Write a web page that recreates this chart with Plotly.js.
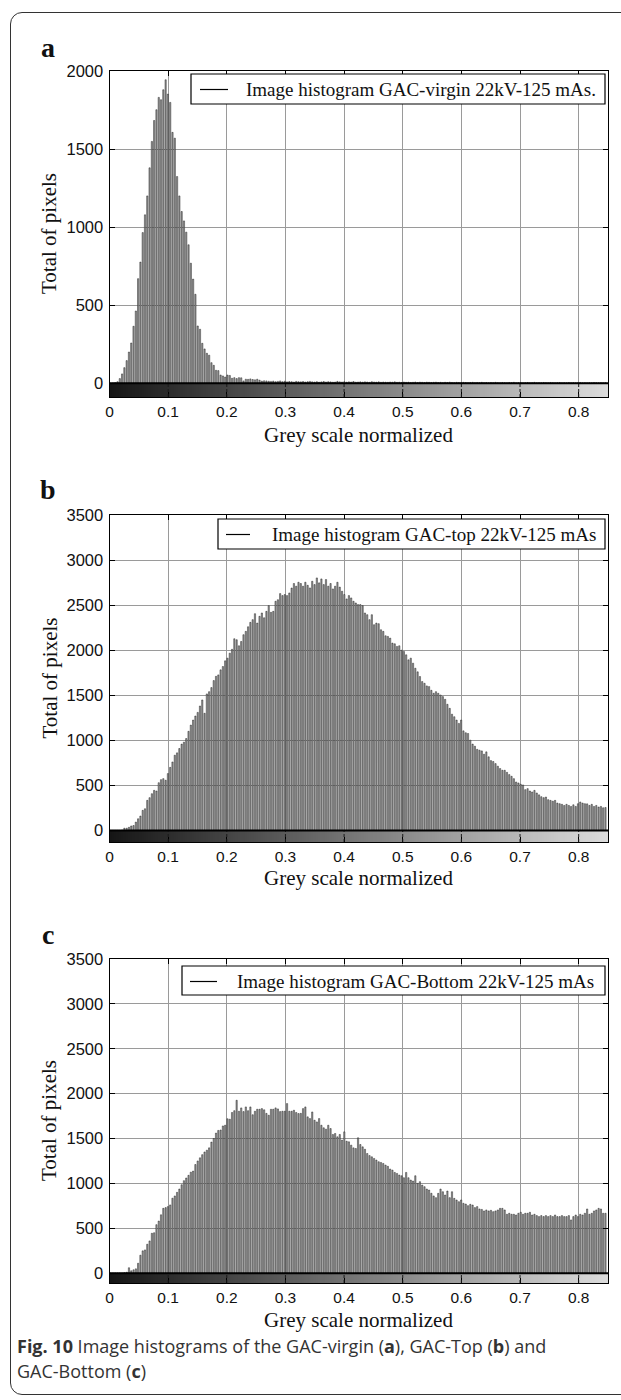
<!DOCTYPE html>
<html>
<head>
<meta charset="utf-8">
<script src="https://cdn.plot.ly/plotly-3.0.1.min.js"></script>
<style>
  html, body { margin: 0; padding: 0; background: #fff; overflow: hidden; }
  #wrap { position: relative; width: 621px; height: 1400px; overflow: hidden; }
  #chart { position: absolute; left: 0; top: 0; width: 621px; height: 1400px; }
  #frame { position: absolute; left: 10px; top: 12px; width: 700px; height: 1383px;
           border: 1.5px solid #333; border-radius: 12px; box-sizing: border-box; pointer-events: none; }
</style>
</head>
<body>
<div id="wrap">
  <div id="chart"></div>
  <div id="frame"></div>
</div>
<script>
// ---------------- DATA ----------------
const binCount = 256;            // grey-level bins over [0, 1]
const xTicks = [0, 0.1, 0.2, 0.3, 0.4, 0.5, 0.6, 0.7, 0.8];
const yTicksA = [0, 500, 1000, 1500, 2000];
const yTicksBC = [0, 500, 1000, 1500, 2000, 2500, 3000, 3500];

const legendA = 'Image histogram GAC-virgin 22kV-125 mAs.';
const legendB = 'Image histogram GAC-top 22kV-125 mAs';
const legendC = 'Image histogram GAC-Bottom 22kV-125 mAs';

// counts for bins 0..216 (grey level 0 .. 0.85)
const virginCounts = [
  0, 2, 4, 10, 30, 60, 100, 145, 200, 258,
  365, 463, 670, 776, 965, 1079, 1200, 1380, 1549, 1683,
  1752, 1831, 1816, 1880, 1944, 1852, 1799, 1607, 1570, 1324,
  1200, 1100, 1040, 968, 887, 769, 667, 570, 367, 346,
  256, 220, 192, 180, 132, 115, 83, 81, 53, 47,
  40, 53, 50, 32, 36, 30, 36, 35, 15, 26,
  25, 28, 24, 22, 26, 20, 14, 16, 15, 13,
  12, 14, 10, 12, 15, 10, 13, 9, 11, 10,
  8, 12, 10, 9, 11, 8, 10, 12, 9, 8,
  10, 7, 9, 11, 8, 10, 9, 7, 8, 12,
  9, 8, 10, 7, 9, 8, 11, 7, 8, 9,
  7, 9, 8, 6, 10, 8, 7, 9, 6, 8,
  7, 6, 8, 7, 9, 6, 7, 5, 8, 6,
  7, 5, 6, 8, 5, 7, 6, 5, 7, 6,
  5, 6, 7, 5, 6, 4, 6, 5, 7, 5,
  4, 6, 5, 4, 6, 5, 4, 5, 6, 4,
  5, 4, 6, 4, 5, 3, 5, 4, 6, 4,
  3, 5, 4, 3, 5, 4, 6, 3, 4, 5,
  3, 4, 5, 3, 4, 6, 3, 4, 3, 5,
  4, 3, 5, 4, 3, 4, 5, 3, 4, 3,
  5, 3, 4, 3, 4, 5, 3, 4, 3, 4,
  3, 5, 4, 3, 4, 3, 4
];

const topCounts = [
  0, 0, 0, 0, 0, 5, 25, 25, 35, 50,
  55, 93, 130, 160, 223, 241, 334, 364, 408, 445,
  438, 530, 564, 575, 557, 631, 700, 760, 835, 861,
  909, 958, 980, 1020, 1100, 1169, 1225, 1270, 1310, 1381,
  1448, 1300, 1515, 1540, 1585, 1663, 1710, 1726, 1782, 1819,
  1882, 1912, 1967, 2010, 2127, 2116, 2049, 2097, 2172, 2209,
  2260, 2309, 2339, 2405, 2301, 2376, 2413, 2360, 2431, 2494,
  2420, 2431, 2543, 2560, 2628, 2606, 2617, 2606, 2635, 2690,
  2740, 2710, 2754, 2740, 2710, 2754, 2720, 2691, 2765, 2728,
  2802, 2747, 2791, 2728, 2784, 2710, 2740, 2680, 2710, 2754,
  2700, 2654, 2617, 2569, 2606, 2580, 2543, 2524, 2506, 2506,
  2494, 2413, 2394, 2339, 2394, 2283, 2301, 2294, 2227, 2209,
  2160, 2153, 2134, 2079, 2071, 2042, 2049, 2000, 1986, 1949,
  1893, 1912, 1856, 1800, 1760, 1708, 1652, 1633, 1604, 1596,
  1555, 1522, 1540, 1522, 1503, 1485, 1455, 1400, 1355, 1290,
  1262, 1225, 1188, 1225, 1105, 1084, 1076, 1002, 958, 935,
  900, 891, 883, 846, 872, 817, 775, 765, 742, 713,
  687, 668, 668, 645, 620, 601, 575, 538, 527, 512,
  505, 453, 464, 438, 427, 445, 416, 395, 375, 364,
  371, 342, 334, 325, 334, 304, 297, 290, 278, 290,
  278, 267, 285, 267, 297, 316, 304, 297, 295, 278,
  290, 267, 278, 260, 267, 252, 255
];

const bottomCounts = [
  0, 0, 0, 0, 0, 0, 5, 10, 60, 26,
  37, 48, 110, 200, 248, 259, 322, 359, 444, 450,
  540, 580, 650, 722, 730, 741, 760, 835, 860, 900,
  937, 985, 1030, 1060, 1090, 1125, 1137, 1210, 1250, 1285,
  1320, 1350, 1370, 1396, 1460, 1500, 1560, 1590, 1595, 1640,
  1648, 1720, 1715, 1790, 1810, 1926, 1804, 1841, 1800, 1852,
  1810, 1852, 1765, 1804, 1826, 1826, 1833, 1820, 1780, 1759,
  1826, 1826, 1841, 1830, 1800, 1804, 1804, 1889, 1804, 1804,
  1815, 1790, 1778, 1780, 1833, 1852, 1741, 1722, 1796, 1704,
  1685, 1722, 1648, 1619, 1604, 1648, 1611, 1545, 1556, 1519,
  1545, 1482, 1574, 1470, 1463, 1426, 1396, 1389, 1508, 1433,
  1407, 1380, 1333, 1310, 1296, 1278, 1260, 1241, 1233, 1222,
  1204, 1190, 1160, 1148, 1122, 1111, 1093, 1085, 1063, 1122,
  1063, 1037, 1026, 1085, 1000, 1019, 981, 963, 937, 926,
  890, 860, 841, 889, 937, 907, 870, 915, 841, 907,
  833, 815, 796, 815, 778, 770, 752, 767, 759, 730,
  741, 715, 710, 693, 704, 693, 700, 685, 693, 704,
  722, 722, 704, 656, 667, 656, 656, 648, 667, 678,
  656, 667, 667, 678, 648, 656, 641, 630, 641, 630,
  641, 630, 641, 630, 648, 630, 630, 641, 630, 630,
  641, 593, 630, 648, 630, 656, 648, 667, 715, 656,
  667, 693, 704, 722, 715, 667, 667
];

// ---------------- LAYOUT HELPERS ----------------
const W = 621, H = 1400;
const px = v => v / W;
const py = v => 1 - v / H;

const serif = 'Liberation Serif, Times New Roman, serif';
const sans = 'Liberation Sans, Arial, sans-serif';
const capFont = 'Open Sans, Noto Sans, sans-serif';

const xLeft = 109.5, xRight = 608;
const panels = [
  { counts: virginCounts, legend: legendA, label: 'a', yTicks: yTicksA, yMax: 2000, yMin: -88,
    top: 71, bottom: 397, labelY: 48, titleY: 435,
    box: [191, 74, 605, 104], textX: 244, sample: [200, 228] },
  { counts: topCounts, legend: legendB, label: 'b', yTicks: yTicksBC, yMax: 3500, yMin: -128,
    top: 515, bottom: 842, labelY: 490, titleY: 878,
    box: [218, 519, 605, 549], textX: 270, sample: [226, 250] },
  { counts: bottomCounts, legend: legendC, label: 'c', yTicks: yTicksBC, yMax: 3500, yMin: -110,
    top: 959, bottom: 1283, labelY: 935, titleY: 1320,
    box: [182, 966, 605, 995], textX: 235, sample: [190, 217] }
];

const traces = [];
const shapes = [];
const annotations = [];
const layout = {
  width: W, height: H,
  margin: { l: 0, r: 0, t: 0, b: 0 },
  paper_bgcolor: '#ffffff', plot_bgcolor: '#ffffff',
  showlegend: false,
  font: { family: sans, color: '#111' }
};

panels.forEach((p, k) => {
  const n = k === 0 ? '' : String(k + 1);
  const xa = 'x' + n, ya = 'y' + n;

  // gradient strip (grey colour scale under the zero line)
  const edges = [], shade = [];
  for (let i = 0; i <= binCount; i++) edges.push(i / binCount);
  for (let i = 0; i < binCount; i++) shade.push((i + 0.5) / binCount);
  traces.push({
    type: 'heatmap', x: edges, y: [p.yMin, 0], z: [shade],
    colorscale: [[0, '#151515'], [1, '#ffffff']], zmin: 0, zmax: 1,
    showscale: false, hoverinfo: 'skip', xaxis: xa, yaxis: ya
  });

  // histogram bars
  const centers = p.counts.map((_, i) => (i + 0.5) / binCount);
  traces.push({
    type: 'bar', x: centers, y: p.counts, width: 0.55 / binCount,
    marker: { color: '#9a9a9a', line: { color: '#000000', width: 0.4 } },
    hoverinfo: 'skip', xaxis: xa, yaxis: ya
  });

  const axisCommon = {
    ticks: 'inside', ticklen: 5, tickcolor: '#000', tickwidth: 1,
    showline: true, linecolor: '#000', linewidth: 1, mirror: 'all',
    showgrid: true, gridcolor: '#9a9a9a', gridwidth: 1, zeroline: false,
    fixedrange: true
  };
  layout['xaxis' + n] = Object.assign({}, axisCommon, {
    domain: [px(xLeft), px(xRight)], range: [0, 0.85], anchor: ya,
    tickvals: xTicks, ticktext: xTicks.map(String), ticklabelstandoff: 0,
    tickfont: { family: sans, size: 15.5, color: '#111' }
  });
  layout['yaxis' + n] = Object.assign({}, axisCommon, {
    domain: [py(p.bottom), py(p.top)], range: [p.yMin, p.yMax], anchor: xa,
    tickvals: p.yTicks, ticktext: p.yTicks.map(String), ticklabelstandoff: 2,
    tickfont: { family: sans, size: 16.5, color: '#111' }
  });

  // dashed tick marks through the grey strip
  xTicks.forEach(t => {
    if (t === 0) return;
    shapes.push({ type: 'line', xref: xa, yref: ya, x0: t, x1: t, y0: p.yMin, y1: 0,
      line: { color: '#1a1a1a', width: 1, dash: '3px,2px' }, layer: 'above' });
  });
  // zero line
  shapes.push({ type: 'line', xref: xa, yref: ya, x0: 0, x1: 0.85, y0: 0, y1: 0,
    line: { color: '#000', width: 2 }, layer: 'above' });

  // legend box + sample line
  shapes.push({ type: 'rect', xref: 'paper', yref: 'paper',
    x0: px(p.box[0]), x1: px(p.box[2]), y0: py(p.box[3]), y1: py(p.box[1]),
    line: { color: '#000', width: 1.2 }, fillcolor: '#ffffff', layer: 'above' });
  const ly = Math.round((p.box[1] + p.box[3]) / 2) + 0.5;
  shapes.push({ type: 'line', xref: 'paper', yref: 'paper',
    x0: px(p.sample[0]), x1: px(p.sample[1]), y0: py(ly), y1: py(ly),
    line: { color: '#000', width: 1.2 }, layer: 'above' });
  annotations.push({ xref: 'paper', yref: 'paper', x: px(p.textX), y: py(ly),
    xanchor: 'left', yanchor: 'middle', showarrow: false, text: p.legend,
    font: { family: serif, size: 19, color: '#111' } });

  // panel letter
  annotations.push({ xref: 'paper', yref: 'paper', x: px(48), y: py(p.labelY),
    xanchor: 'center', yanchor: 'middle', showarrow: false, text: '<b>' + p.label + '</b>',
    font: { family: serif, size: 28, color: '#111' } });
  // y title
  annotations.push({ xref: 'paper', yref: 'paper', x: px(49), y: py((p.top + p.bottom) / 2),
    xanchor: 'center', yanchor: 'middle', showarrow: false, textangle: -90,
    text: 'Total of pixels', font: { family: serif, size: 21, color: '#111' } });
  // x title
  annotations.push({ xref: 'paper', yref: 'paper', x: px((xLeft + xRight) / 2), y: py(p.titleY),
    xanchor: 'center', yanchor: 'middle', showarrow: false,
    text: 'Grey scale normalized', font: { family: serif, size: 21, color: '#111' } });
});

// caption
annotations.push({ xref: 'paper', yref: 'paper', x: px(15), y: py(1346),
  xanchor: 'left', yanchor: 'middle', showarrow: false,
  text: '<b>Fig. 10</b> Image histograms of the GAC-virgin (<b>a</b>), GAC-Top (<b>b</b>) and',
  font: { family: capFont, size: 18, color: '#333' } });
annotations.push({ xref: 'paper', yref: 'paper', x: px(15), y: py(1371),
  xanchor: 'left', yanchor: 'middle', showarrow: false,
  text: 'GAC-Bottom (<b>c</b>)',
  font: { family: capFont, size: 18, color: '#333' } });

layout.shapes = shapes;
layout.annotations = annotations;

Plotly.newPlot('chart', traces, layout, { staticPlot: true, displayModeBar: false });
</script>
</body>
</html>
